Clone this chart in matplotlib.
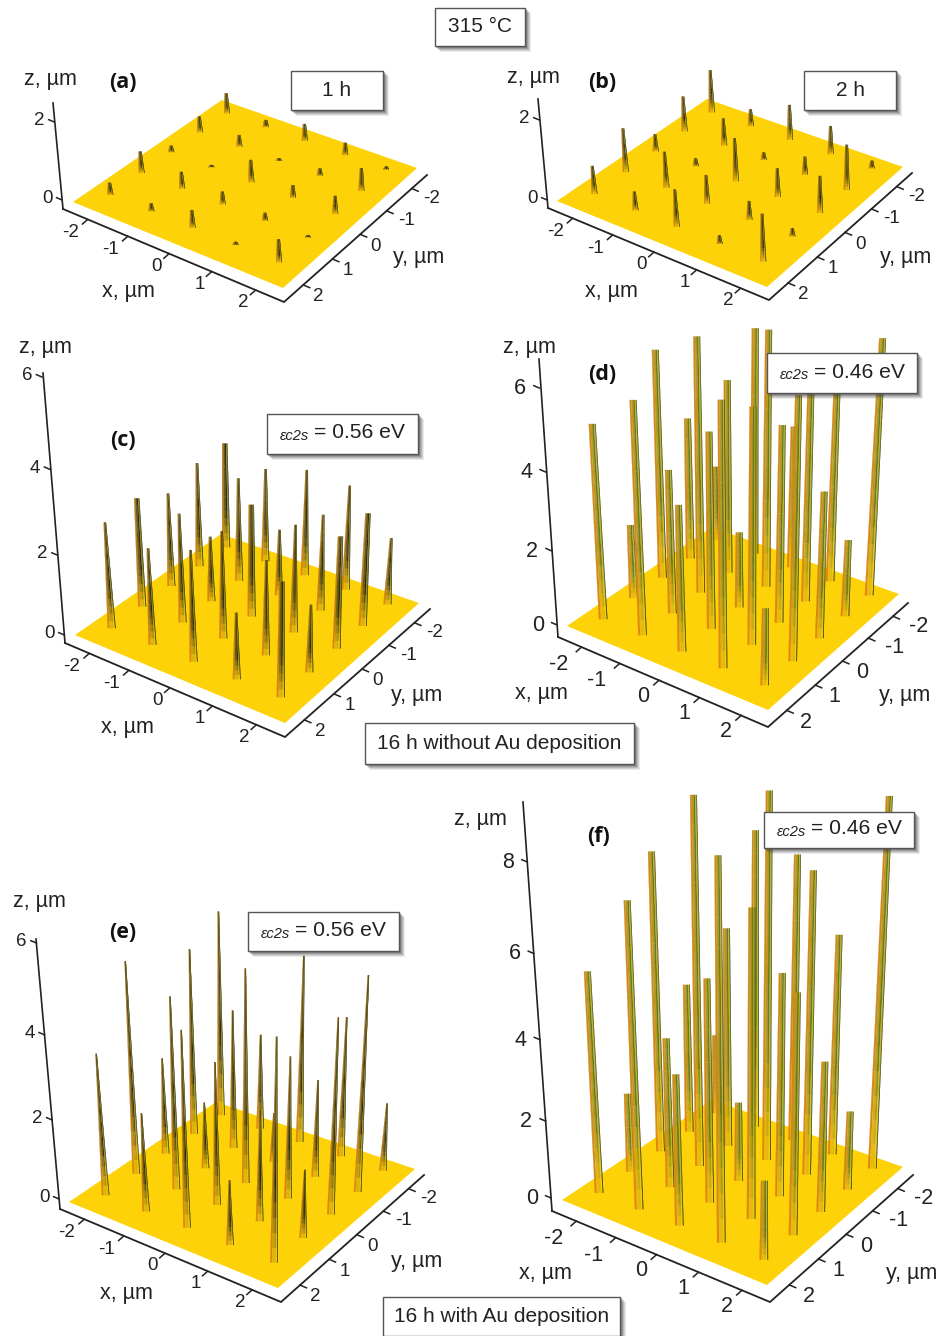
import numpy as np, matplotlib
matplotlib.use('Agg')
import matplotlib.pyplot as plt
from matplotlib.collections import PolyCollection
from matplotlib.patches import Rectangle

plt.rcParams['font.family'] = ['Liberation Sans', 'DejaVu Sans']

# wire lattice (µm) and axis ticks
x_wires = [-2.17, -1.08, -0.02, 1.05, 2.10]
y_wires = [1.98, 0.94, -0.10, -1.15, -2.19]
x_ticks = [-2, -1, 0, 1, 2]
y_ticks = [-2, -1, 0, 1, 2]

# wire heights (µm): one row per y_wires entry, one column per x_wires entry
heights_a = [[.32,.21,.46,.08,.59],[.58,.45,.34,.21,.06],[.18,.06,.6,.34,.47],[.44,.32,.07,.2,.61],[.57,.2,.47,.34,.08]]
heights_b = [[.72,.48,.94,.22,1.17],[1.14,.93,.73,.48,.21],[.46,.21,1.12,.74,.94],[.94,.73,.2,.48,1.17],[1.16,.46,.94,.75,.21]]
heights_c = [[2.65,2.4,2.73,1.64,2.76],[2.75,2.73,2.67,2.35,1.67],[2.4,1.67,2.81,2.68,2.76],[2.7,2.65,1.7,2.43,2.81],[2.76,2.43,2.73,2.67,1.71]]
heights_d = [[5.1,6.0,3.83,6.64,2.03],[2.03,3.85,5.14,6.06,6.64],[6.08,6.7,2.08,5.19,3.89],[3.92,5.24,6.77,5.7,2.11],[2.14,6.16,3.93,5.29,6.77]]
heights_e = [[3.52,2.46,4.69,1.61,5.16],[5.21,4.7,3.51,2.74,1.69],[2.48,1.71,5.19,3.5,4.68],[4.7,3.52,1.28,2.46,5.18],[5.21,2.48,4.68,3.52,1.73]]
heights_f = [[5.57,7.46,3.81,8.92,2.0],[2.09,3.86,5.61,7.49,5.91],[7.61,9.11,2.09,5.63,3.84],[3.99,5.71,9.14,7.61,2.08],[2.2,7.72,7.39,5.74,9.18]]

A = 2.63
DARK = ['#C07A18','#6A5A14','#2E2A0C','#8A8A20','#3A3208']
BRIGHT = ['#D4861A','#B89A20','#6E7A1A','#B8B428','#4A4A14']
geo = {
 'a': dict(h=heights_a,L=(73,202),T=(222,100),R=(417,168),B=(283,288),O=(63,209),E=(284,302),F=(427,175),ztop=(53,103),z0=200,zt=(2,122),V=(367,3227),zticks=[0,2],
           width=6,tip=.5,pal=DARK,blunt=9,fs=13.5,off=1.0,xl=(128,291),yl=(419,258),zl=(50,79),pl=(123,82),name='(a)'),
 'b': dict(h=heights_b,L=(557,201),T=(707,99),R=(903,167),B=(767,287),O=(548,208),E=(769,300),F=(912,173),ztop=(538,99),z0=200,zt=(2,120),V=(847,3227),zticks=[0,2],
           width=6,tip=.45,pal=DARK,blunt=9,fs=13.5,off=1.0,xl=(611,291),yl=(906,258),zl=(533,78),pl=(602,82),name='(b)'),
 'c': dict(h=heights_c,L=(75,635),T=(221,534),R=(419,603),B=(285,723),O=(65,643),E=(285,737),F=(430,609),ztop=(43,373),z0=635,zt=(6,377),V=(258,2869),zticks=[0,2,4,6],
           width=8,tip=.3,pal=DARK,blunt=2.75,fs=13.5,off=1.0,xl=(127,727),yl=(417,696),zl=(45,347),pl=(123,441),name='(c)'),
 'd': dict(h=heights_d,L=(567,626),T=(712,527),R=(899,594),B=(768,710),O=(558,637),E=(768,727),F=(908,603),ztop=(539,359),z0=625,zt=(6,388),V=(740,3056),zticks=[0,2,4,6],
           width=8.5,tip=.8,pal=BRIGHT,blunt=99,fs=15.5,off=1.45,xl=(541,694),yl=(905,696),zl=(529,347),pl=(602,374),name='(d)'),
 'e': dict(h=heights_e,L=(69,1202),T=(216,1102),R=(415,1169),B=(278,1288),O=(60,1209),E=(281,1302),F=(424,1175),ztop=(36,939),z0=1199,zt=(6,943),V=(250,3351),zticks=[0,2,4,6],
           width=7.5,tip=.18,pal=DARK,blunt=99,fs=13.5,off=1.0,xl=(126,1293),yl=(417,1262),zl=(39,901),pl=(123,933),name='(e)'),
 'f': dict(h=heights_f,L=(562,1200),T=(712,1100),R=(903,1167),B=(767,1285),O=(552,1211),E=(770,1302),F=(913,1175),ztop=(523,802),z0=1198,zt=(8,862),V=(745,3939),zticks=[0,2,4,6,8],
           width=8.5,tip=.8,pal=BRIGHT,blunt=99,fs=15.5,off=1.45,xl=(545,1274),yl=(912,1273),zl=(480,820),pl=(599,836),name='(f)'),
}
boxes = [((435,8,525,46),'315 °C',None),((291,71,383,110),'1 h',None),((804,71,896,110),'2 h',None),
 ((267,414,418,454),None,'0.56'),((767,353,917,393),None,'0.46'),((248,912,399,951),None,'0.56'),((764,812,914,848),None,'0.46'),
 ((365,723,634,764),'16 h without Au deposition',None),((383,1297,620,1336),'16 h with Au deposition',None)]

def homography(g):
    src = [(-A,A),(A,A),(A,-A),(-A,-A)]
    dst = [g['L'],g['B'],g['R'],g['T']]
    M=[];b=[]
    for (x,y),(u,v) in zip(src,dst):
        M.append([x,y,1,0,0,0,-u*x,-u*y]);b.append(u)
        M.append([0,0,0,x,y,1,-v*x,-v*y]);b.append(v)
    h=np.linalg.solve(np.array(M,float),np.array(b,float))
    return np.append(h,1).reshape(3,3)

stripes_bot = ['#E2870F','#F2BE0C','#EDC20C','#F7D010','#3A3208']
edges = np.array([0,.24,.52,.76,.93,1.0])
bot_rgb = np.array([matplotlib.colors.to_rgb(c) for c in stripes_bot])
INK='#222222'

fig=plt.figure(figsize=(9.39,13.36),dpi=100)
ax=fig.add_axes([0,0,1,1]); ax.set_xlim(0,939); ax.set_ylim(1336,0); ax.axis('off')

def draw_panel(g):
    H=homography(g); V=np.array(g['V'],float)
    O,E,F=[np.array(g[k],float) for k in 'OEF']
    w0=(H@[-A,A+.38,1])[2]; zv,zy=g['zt']
    k=w0*(g['z0']-zy)/(zv*(zy-V[1]))
    Vh=np.array([V[0],V[1],1.0])
    top_rgb=np.array([matplotlib.colors.to_rgb(c) for c in g['pal']])
    def proj(x,y,z=0.0):
        p=H@[x,y,1]+z*k*Vh
        return p[:2]/p[2]
    ax.fill(*zip(*[proj(-A,A),proj(A,A),proj(A,-A),proj(-A,-A)]),color='#FDD208',lw=0,zorder=2)
    order=sorted([(i,j) for i in range(5) for j in range(5)],key=lambda q:x_wires[q[1]]+y_wires[q[0]])
    polys=[];cols=[]
    for i,j in order:
        h=g['h'][i][j]; xx,yy=x_wires[j],y_wires[i]
        tip=.65 if h>=g['blunt'] else g['tip']
        zs=np.linspace(0,h,15)
        cs=np.array([proj(xx,yy,z) for z in zs])
        for s in range(14):
            t0,t1=s/14,(s+1)/14
            hw0=g['width']/2*(1-(1-tip)*t0); hw1=g['width']/2*(1-(1-tip)*t1)
            blend=min(1,((t0+t1)/2)/.35)
            for e in range(5):
                a,b=edges[e]*2-1,edges[e+1]*2-1
                polys.append([(cs[s,0]+a*hw0,cs[s,1]),(cs[s,0]+b*hw0,cs[s,1]),(cs[s+1,0]+b*hw1,cs[s+1,1]),(cs[s+1,0]+a*hw1,cs[s+1,1])])
                cols.append(bot_rgb[e]*(1-blend)+top_rgb[e]*blend)
    ax.add_collection(PolyCollection(polys,facecolors=cols,edgecolors=cols,linewidths=.15,zorder=3))
    ax.plot([O[0],E[0],F[0]],[O[1],E[1],F[1]],color=INK,lw=1.3,zorder=4,solid_joinstyle='miter')
    ax.plot([O[0],g['ztop'][0]],[O[1],g['ztop'][1]],color=INK,lw=1.2,zorder=4)
    ox=(E-O)/np.linalg.norm(E-O)
    Lp,Bp,Rp=proj(-A,A),proj(A,A),proj(A,-A)
    for t in x_ticks:
        f=(proj(t,A)[0]-Lp[0])/(Bp[0]-Lp[0]); p=O+f*(E-O)
        q=p-(F-E)/np.linalg.norm(F-E)*7
        ax.plot([p[0],q[0]],[p[1],q[1]],color=INK,lw=1.1,zorder=4)
        dx,dy=(-12,11) if t<0 else (-7,10)
        ax.text(q[0]+dx*g['off'],q[1]+dy*(g['off']*.8),str(t),fontsize=g['fs'],ha='center',va='center',color=INK)
    for t in y_ticks:
        f=(proj(A,t)[0]-Rp[0])/(Bp[0]-Rp[0]); p=F+f*(E-F)
        q=p+ox*7
        ax.plot([p[0],q[0]],[p[1],q[1]],color=INK,lw=1.1,zorder=4)
        dx,dy=(15,7) if t<0 else (10,9)
        ax.text(q[0]+dx*g['off']*.9,q[1]+dy,str(t),fontsize=g['fs'],ha='center',va='center',color=INK)
    A0=O+(g['z0']-O[1])*(V-O)/(V[1]-O[1])
    for t in g['zticks']:
        den=w0+t*k
        p=np.array([(w0*A0[0]+t*k*V[0])/den,(w0*A0[1]+t*k*V[1])/den])
        q=p-ox*6
        ax.plot([p[0],q[0]],[p[1],q[1]],color=INK,lw=1.1,zorder=4)
        ax.text(q[0]-9.5*g['off'],q[1]+1+(g['off']-1)*4,str(t),fontsize=g['fs'],ha='center',va='center',color=INK)
    for pos,lab in ((g['xl'],'x, µm'),(g['yl'],'y, µm'),(g['zl'],'z, µm')):
        ax.text(pos[0],pos[1],lab,fontsize=15.5,ha='center',va='center',color=INK)
    ax.text(g['pl'][0],g['pl'][1],g['name'],fontsize=15.5,fontweight='bold',family='Open Sans',ha='center',va='center',color='#111111')

for g in geo.values():
    draw_panel(g)

for (x0,y0,x1,y1),txt,eps in boxes:
    for d,al in ((5,.10),(4,.14),(3,.18),(2,.22),(1,.3)):
        ax.add_patch(Rectangle((x0+d,y0+d),x1-x0+1,y1-y0+1,fc='#404040',ec='none',alpha=al,zorder=9))
    ax.add_patch(Rectangle((x0,y0),x1-x0,y1-y0,fc='white',ec='#555555',lw=1,zorder=10))
    cx,cy=(x0+x1)/2,(y0+y1)/2
    if txt:
        ax.text(cx,cy,txt,fontsize=15,ha='center',va='center',color=INK,zorder=11)
    else:
        ax.text(x0+13,cy+2,'εc2s',fontsize=10.5,style='italic',ha='left',va='center',color=INK,zorder=11)
        ax.text(x0+47,cy-1,'= '+eps+' eV',fontsize=15.2,ha='left',va='center',color=INK,zorder=11)

fig.savefig('out.png',dpi=100)
